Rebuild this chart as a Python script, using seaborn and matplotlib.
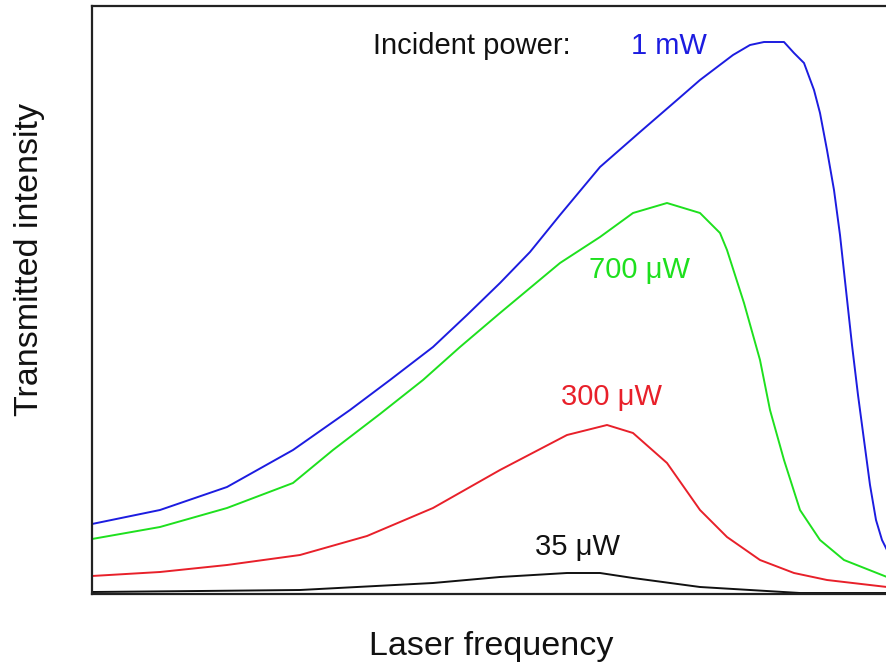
import numpy as np
import pandas as pd
import matplotlib
matplotlib.use("Agg")
import matplotlib.pyplot as plt
import seaborn as sns

# Laser frequency (a.u.) and transmitted intensity (a.u.)
freq_1mW = [0, 68, 135, 201, 258, 298, 341, 375, 408, 438, 468, 508, 548, 585, 608,
            641, 658, 672, 692, 702, 712, 722, 728, 735, 742, 748, 754, 760, 766, 772,
            778, 784, 790, 795]
int_1mW = [70, 84, 107, 144, 184, 214, 247, 279, 311, 342, 379, 427, 462, 494, 514,
           539, 549, 552, 552, 541, 531, 504, 481, 444, 404, 359, 304, 249, 199, 154,
           109, 74, 54, 44]

freq_700uW = [0, 68, 135, 201, 241, 288, 331, 368, 408, 468, 508, 541, 575, 608, 628, 635,
              652, 668, 678, 692, 708, 728, 752, 795]
int_700uW = [55, 67, 86, 111, 144, 180, 214, 247, 281, 331, 357, 381, 391, 381, 361, 344,
             291, 234, 184, 134, 84, 54, 34, 17]

freq_300uW = [0, 68, 135, 208, 275, 341, 408, 475, 515, 541, 575, 608, 635, 668, 702, 735, 795]
int_300uW = [18, 22, 29, 39, 58, 86, 124, 159, 169, 161, 131, 84, 57, 34, 21, 14, 7]

freq_35uW = [0, 108, 208, 341, 408, 475, 508, 541, 608, 708, 795]
int_35uW = [2, 3, 4, 11, 17, 21, 21, 16, 7, 1, 1]

series_names = ["1 mW", "700 \u03bcW", "300 \u03bcW", "35 \u03bcW"]
series_colors = ["#1c1ce0", "#1ee01e", "#e8202a", "#111111"]

frames = []
for name, f, i in zip(series_names,
                      [freq_1mW, freq_700uW, freq_300uW, freq_35uW],
                      [int_1mW, int_700uW, int_300uW, int_35uW]):
    frames.append(pd.DataFrame({"freq": f, "intensity": i, "power": name}))
df = pd.concat(frames, ignore_index=True)

sns.set_style("white")
plt.rcParams["font.family"] = ["Liberation Sans", "DejaVu Sans"]

fig = plt.figure(figsize=(8.87, 6.65), dpi=100)
ax = fig.add_axes([92 / 887, 71 / 665, (892 - 92) / 887, 588 / 665])

sns.lineplot(data=df, x="freq", y="intensity", hue="power", hue_order=series_names,
             palette=dict(zip(series_names, series_colors)), sort=False,
             linewidth=1.4, legend=False, ax=ax, estimator=None)

ax.set_xlim(0, 800)
ax.set_ylim(0, 588)
ax.set_xticks([])
ax.set_yticks([])
ax.set_xlabel("")
ax.set_ylabel("")
for s in ax.spines.values():
    s.set_color("#222222")
    s.set_linewidth(1.6)

fs = 21
ax.text(380, 548, "Incident power:", fontsize=fs, color="#111111", ha="center", va="center")
ax.text(577, 548, series_names[0], fontsize=fs, color=series_colors[0], ha="center", va="center")
ax.text(548, 324, series_names[1], fontsize=fs, color=series_colors[1], ha="center", va="center")
ax.text(520, 197, series_names[2], fontsize=fs, color=series_colors[2], ha="center", va="center")
ax.text(486, 47, series_names[3], fontsize=fs, color="#111111", ha="center", va="center")

fig.text(491 / 887, 1 - 646 / 665, "Laser frequency", fontsize=24.5, ha="center", va="center",
         color="#111111")
fig.text(30 / 887, 1 - 260 / 665, "Transmitted intensity", fontsize=24.5, ha="center", va="center",
         rotation=90, color="#111111")

fig.savefig("out.png", dpi=100, facecolor="white")
